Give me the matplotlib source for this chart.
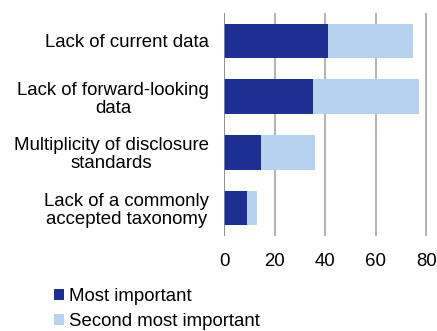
import numpy as np
import matplotlib.pyplot as plt

plt.rcParams['font.family'] = ['Liberation Sans', 'DejaVu Sans']

# survey: obstacles to using climate-related data
categories = ['Lack of current data',
              'Lack of forward-looking\ndata',
              'Multiplicity of disclosure\nstandards',
              'Lack of a commonly\naccepted taxonomy']
most_important = [41.2, 35.3, 14.7, 8.9]
second_important = [33.4, 41.7, 21.0, 4.1]
xticks = [0, 20, 40, 60, 80]

dark = '#1b3092'
light = '#b5d2f0'
fs = 13.4

fig = plt.figure(figsize=(4.37, 3.31), dpi=100)
ax = fig.add_axes([0.5133, 0.287, 0.4654, 0.6737])

y = np.arange(len(categories))
b1 = ax.barh(y, most_important, height=0.62, color=dark, label='Most important', zorder=3)
b2 = ax.barh(y, second_important, left=most_important, height=0.62, color=light,
             label='Second most important', zorder=3)

ax.set_ylim(3.5, -0.5)
ax.set_xlim(0, 80.5)
ax.set_xticks(xticks)
ax.set_yticks(y)
ax.set_yticklabels(categories, fontsize=fs, multialignment='center', linespacing=1.08)
ax.tick_params(axis='x', length=0, pad=12, labelsize=fs)
ax.tick_params(axis='y', length=0, pad=11)
ax.xaxis.grid(True, color='#a6a6a6', linewidth=1.2, zorder=0)
for s in ax.spines.values():
    s.set_visible(False)
ax.axvline(0, color='#8c8c8c', linewidth=1.2, zorder=4)

fig.legend(handles=[b1, b2], loc='upper left', bbox_to_anchor=(0.124, 0.13),
           frameon=False, fontsize=fs, handlelength=0.55, handleheight=0.55,
           handletextpad=0.25, labelspacing=0.42, borderpad=0, borderaxespad=0)

fig.savefig('out.png', dpi=100)
